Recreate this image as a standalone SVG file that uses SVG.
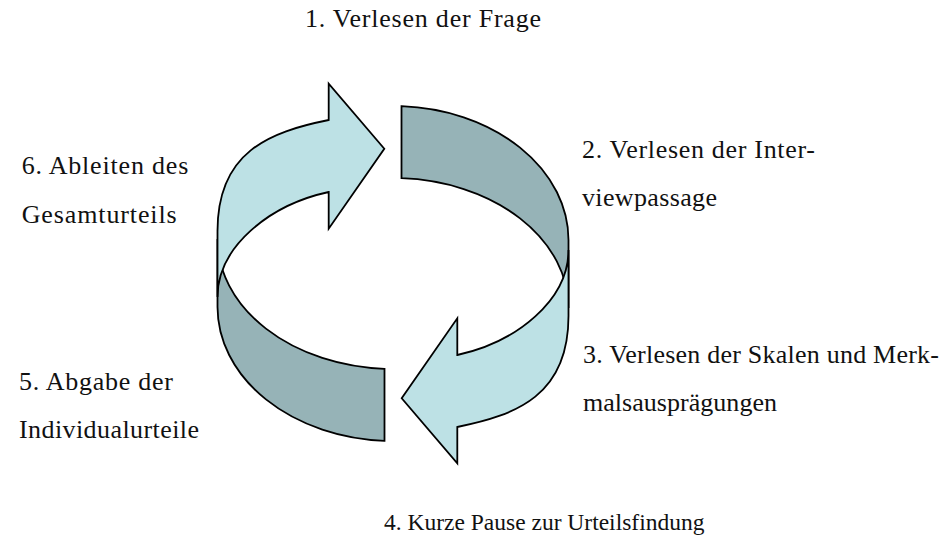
<svg xmlns="http://www.w3.org/2000/svg" width="950" height="539" viewBox="0 0 950 539">
  <style>
    .dark { fill: #96B3B7; stroke: #000; stroke-width: 1.8; stroke-linejoin: miter; }
    .light { fill: #BDE1E5; stroke: #000; stroke-width: 1.8; stroke-linejoin: miter; }
    .lbl { font-family: "Liberation Serif", "Times New Roman", serif; font-size: 26px; fill: #111; }
    .small { font-size: 23.5px; }
  </style>
  <rect width="950" height="539" fill="#fff"/>
  <g id="band-top-right" class="dark">
    <path d="M401.5,106.2 A175.5,134 0 0 1 568.5,240 L568.5,308 A175.5,130 0 0 0 401.5,178.2 Z"/>
  </g>
  <g id="band-bottom-left" class="dark">
    <path transform="rotate(180 393 273.5)" d="M401.5,106.2 A175.5,134 0 0 1 568.5,240 L568.5,308 A175.5,130 0 0 0 401.5,178.2 Z"/>
  </g>
  <g id="arrow-bottom-right" class="light">
    <path d="M457.3,355 C517,342 568.5,300 568.5,250 L568.5,316 C568.5,395 517,415 457.3,427 L457.3,463.3 L401.7,398.3 L457.3,318.3 Z"/>
  </g>
  <g id="arrow-top-left" class="light">
    <path transform="rotate(180 393 273.5)" d="M457.3,355 C517,342 568.5,300 568.5,250 L568.5,316 C568.5,395 517,415 457.3,427 L457.3,463.3 L401.7,398.3 L457.3,318.3 Z"/>
  </g>
  <g id="step1" class="lbl">
    <text x="305" y="27" textLength="236" lengthAdjust="spacing">1. Verlesen der Frage</text>
  </g>
  <g id="step2" class="lbl">
    <text x="582" y="158" textLength="233" lengthAdjust="spacing">2. Verlesen der Inter-</text>
    <text x="582" y="206" textLength="135" lengthAdjust="spacing">viewpassage</text>
  </g>
  <g id="step3" class="lbl">
    <text x="583" y="363" textLength="356" lengthAdjust="spacing">3. Verlesen der Skalen und Merk-</text>
    <text x="583" y="411" textLength="194" lengthAdjust="spacing">malsausprägungen</text>
  </g>
  <g id="step4" class="lbl">
    <text class="small" x="384" y="530">4. Kurze Pause zur Urteilsfindung</text>
  </g>
  <g id="step5" class="lbl">
    <text x="19" y="390" textLength="154" lengthAdjust="spacing">5. Abgabe der</text>
    <text x="19" y="438" textLength="180" lengthAdjust="spacing">Individualurteile</text>
  </g>
  <g id="step6" class="lbl">
    <text x="21.7" y="174" textLength="166.6" lengthAdjust="spacing">6. Ableiten des</text>
    <text x="21.7" y="222.7" textLength="155" lengthAdjust="spacing">Gesamturteils</text>
  </g>
</svg>
